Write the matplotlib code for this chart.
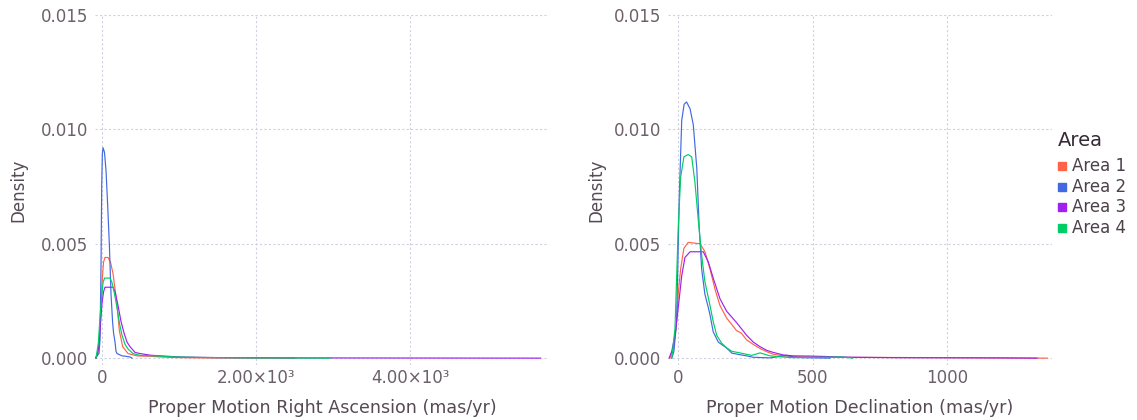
import matplotlib
matplotlib.use("Agg")
import matplotlib.pyplot as plt
from matplotlib.patches import Rectangle
from matplotlib.ticker import FixedLocator

areas = ["Area 1", "Area 2", "Area 3", "Area 4"]
colors = ["#FF6347", "#4169E1", "#A020F0", "#00CD66"]

# density curves, proper motion in right ascension (mas/yr)
ra_x_1 = [-78, -52, -32, -13, 4, 20, 39, 78, 110, 143, 169, 191, 225, 269, 338, 451, 624, 884, 1274, 1924, 2500]
ra_y_1 = [0, 0.0002, 0.0008, 0.0022, 0.0035, 0.0042, 0.0044, 0.0044, 0.0042, 0.0037, 0.0030, 0.0025,
          0.0012, 0.0005, 0.0002, 0.0001, 0.00008, 0.00003, 0.00001, 0.000005, 0]
ra_x_2 = [-91, -39, -26, -13, -4, 4, 13, 32, 52, 72, 95, 117, 137, 150, 160, 169, 182, 195, 260, 312, 364, 390]
ra_y_2 = [0, 0.0002, 0.0008, 0.0040, 0.0075, 0.0089, 0.0092, 0.0090, 0.0082, 0.0068, 0.0050, 0.0028,
          0.0016, 0.0011, 0.0009, 0.0007, 0.0003, 0.0002, 0.0001, 0.00008, 0.00005, 0]
ra_x_3 = [-78, -46, -26, 0, 20, 39, 143, 169, 208, 247, 286, 325, 364, 429, 494, 624, 754, 1014, 1534, 2574, 5694]
ra_y_3 = [0, 0.0004, 0.0012, 0.0024, 0.0029, 0.0031, 0.0031, 0.0029, 0.0023, 0.0016, 0.0011, 0.0007,
          0.0005, 0.00025, 0.0002, 0.00013, 0.0001, 0.00005, 0.00002, 0.00001, 0]
ra_x_4 = [-78, -48, -26, -4, 13, 33, 104, 130, 163, 195, 228, 260, 299, 338, 403, 494, 689, 884, 1274, 1924, 2964]
ra_y_4 = [0, 0.00065, 0.0018, 0.0027, 0.0033, 0.0035, 0.0035, 0.0033, 0.0028, 0.0022, 0.0015, 0.0010,
          0.0006, 0.0004, 0.0002, 0.00012, 0.0001, 0.00006, 0.00003, 0.00001, 0]

# density curves, proper motion in declination (mas/yr)
dec_x_1 = [-30, -17, -7, 1, 10, 22, 38, 82, 100, 119, 138, 156, 181, 218, 235, 255, 280, 305, 330, 354,
           391, 429, 528, 714, 1011, 1197, 1372]
dec_y_1 = [0, 0.0004, 0.0013, 0.0028, 0.0039, 0.0048, 0.00506, 0.0050, 0.00466, 0.0039, 0.0030, 0.0023,
           0.00175, 0.0012, 0.0011, 0.0008, 0.0006, 0.00042, 0.00028, 0.00017, 0.0001, 0.00006, 0.00004,
           0.00003, 0.00002, 0.00001, 0]
dec_x_2 = [-23, -15, -5, 5, 14, 23, 32, 45, 57, 70, 79, 88, 100, 113, 119, 131, 150, 181, 200, 230, 255,
           279, 342, 404, 427, 465, 565]
dec_y_2 = [0, 0.0003, 0.0016, 0.0071, 0.0104, 0.0111, 0.0112, 0.0109, 0.0102, 0.0083, 0.0057, 0.0039,
           0.0028, 0.0022, 0.0019, 0.00115, 0.0007, 0.00044, 0.00022, 0.00015, 0.0001, 0.00004, 0.00001,
           0.00012, 0.00005, 0.00002, 0]
dec_x_3 = [-33, -23, -11, 1, 14, 26, 45, 94, 113, 131, 156, 181, 218, 235, 255, 280, 305, 330, 354, 391,
           429, 491, 554, 639, 825, 1197, 1334]
dec_y_3 = [0, 0.0003, 0.0010, 0.0022, 0.0036, 0.0044, 0.00465, 0.00465, 0.0042, 0.0035, 0.0026, 0.00205,
           0.00155, 0.0013, 0.0010, 0.0007, 0.0005, 0.00034, 0.00025, 0.00014, 0.0001, 0.00009, 0.00007,
           0.00004, 0.00002, 0.00001, 0]
dec_x_4 = [-23, -11, 1, 10, 22, 38, 51, 63, 75, 88, 100, 119, 131, 144, 162, 181, 200, 242, 274, 305,
           342, 379, 427, 610, 650]
dec_y_4 = [0, 0.0013, 0.0057, 0.0079, 0.0088, 0.0089, 0.0088, 0.0077, 0.0061, 0.0045, 0.00335, 0.0023,
           0.0016, 0.0010, 0.00066, 0.00045, 0.0003, 0.0002, 0.00012, 0.00023, 0.0001, 0.00006, 0.00002,
           0.00005, 0]

ra_series = [(ra_x_1, ra_y_1), (ra_x_2, ra_y_2), (ra_x_3, ra_y_3), (ra_x_4, ra_y_4)]
dec_series = [(dec_x_1, dec_y_1), (dec_x_2, dec_y_2), (dec_x_3, dec_y_3), (dec_x_4, dec_y_4)]

ra_ticks = [0, 2000, 4000]
ra_ticklabels = ["0", "2.00×10³", "4.00×10³"]
dec_ticks = [0, 500, 1000]
dec_ticklabels = ["0", "500", "1000"]
y_ticks = [0.0, 0.005, 0.010, 0.015]
y_ticklabels = ["0.000", "0.005", "0.010", "0.015"]

W, H = 1137, 420
plt.rcParams["font.family"] = ["DejaVu Sans"]
fig = plt.figure(figsize=(W / 100, H / 100), dpi=100)

tick_col = "#6C606B"
label_col = "#564A55"
grid_col = "#D0D0E0"


def make_panel(rect_px, series, xticks, xticklabels, xlim, xlabel, ylab_x):
    x0, y0, x1, y1 = rect_px
    ax = fig.add_axes([x0 / W, 1 - y1 / H, (x1 - x0) / W, (y1 - y0) / H])
    for (xs, ys), c in zip(series, colors):
        ax.plot(xs, ys, color=c, lw=0.85, solid_joinstyle="round")
    ax.set_xlim(*xlim)
    ax.set_ylim(-0.0003, 0.015)
    ax.xaxis.set_major_locator(FixedLocator(xticks))
    ax.set_xticklabels(xticklabels)
    ax.set_yticks(y_ticks)
    ax.set_yticklabels(y_ticklabels)
    ax.tick_params(length=0, labelsize=12, labelcolor=tick_col)
    ax.tick_params(axis="x", pad=3)
    ax.tick_params(axis="y", pad=5)
    for s in ax.spines.values():
        s.set_visible(False)
    ax.grid(True, color=grid_col, lw=0.8, linestyle=(0, (2, 2)))
    ax.set_axisbelow(True)
    ax.set_xlabel(xlabel, fontsize=12.6, color=label_col)
    ax.set_ylabel("Density", fontsize=12, color=label_col)
    ax.xaxis.set_label_coords(0.5, -(399 - y1) / (y1 - y0))
    ax.yaxis.set_label_coords(-(x0 - ylab_x) / (x1 - x0), 0.5)
    return ax


make_panel((95, 15, 549, 365), ra_series, ra_ticks, ra_ticklabels, (-91, 5805),
           "Proper Motion Right Ascension (mas/yr)", 27)
make_panel((668, 15, 1052, 365), dec_series, dec_ticks, dec_ticklabels, (-37, 1390),
           "Proper Motion Declination (mas/yr)", 605)

# legend
fig.text(1058 / W, 1 - 141 / H, "Area", fontsize=14, color="#362A35", va="center", ha="left")
for i, (name, c) in enumerate(zip(areas, colors)):
    yc = 166 + i * 20.7
    fig.patches.append(Rectangle((1058 / W, 1 - (yc + 4) / H), 8 / W, 8 / H, color=c,
                                 transform=fig.transFigure, figure=fig))
    fig.text(1072 / W, 1 - yc / H, name, fontsize=12, color="#4C404B", va="center", ha="left")

fig.savefig("out.png", dpi=100)
